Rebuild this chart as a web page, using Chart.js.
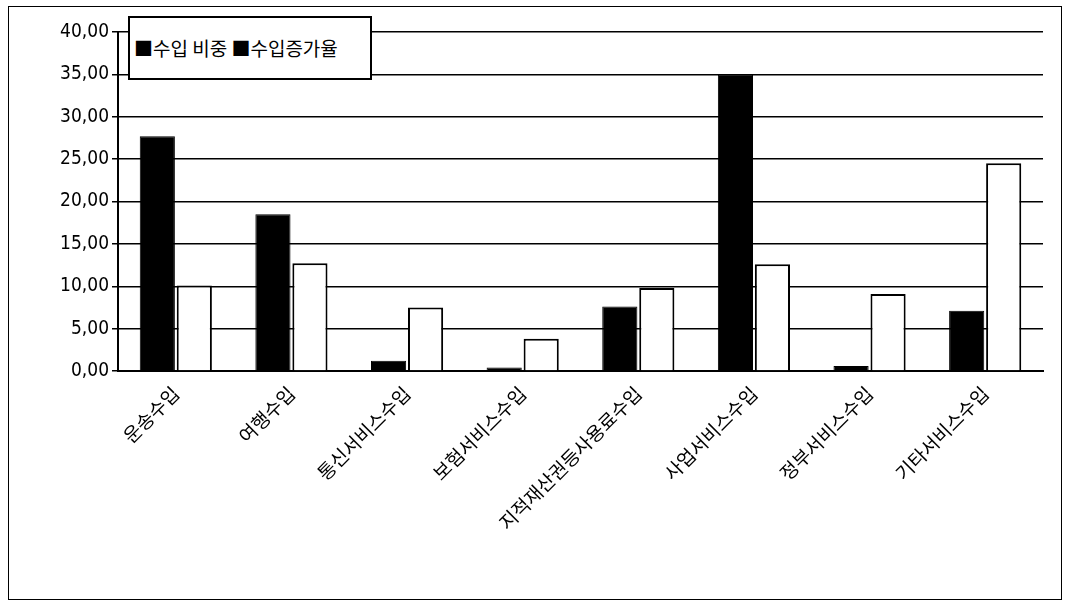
<!DOCTYPE html>
<html><head><meta charset="utf-8">
<script src="https://cdn.jsdelivr.net/npm/chart.js@4"></script>
<style>
body{margin:0;background:#fff}
#wrap{position:relative;width:1071px;height:610px}
#frame{position:absolute;left:8px;top:6px;width:1052px;height:592px;border:1px solid #000;pointer-events:none}
#legend{position:absolute;left:128px;top:16px;width:244px;height:64px;border:2px solid #000;background:#fff;
 font-family:"Noto Sans CJK KR";font-size:19px;line-height:60px;padding-left:4px;box-sizing:border-box;white-space:nowrap}
</style></head><body>
<div id="wrap"><canvas id="chart" width="1071" height="610"></canvas><div id="frame"></div>
<div id="legend">■수입 비중 ■수입증가율</div></div>
<script>
const categories = ['운송수입','여행수입','통신서비스수입','보험서비스수입','지적재산권등사용료수입','사업서비스수입','정부서비스수입','기타서비스수입'];
const share = [27.7, 18.5, 1.2, 0.4, 7.6, 35.0, 0.6, 7.1];
const growth = [10.1, 12.7, 7.5, 3.8, 9.8, 12.6, 9.1, 24.5];

new Chart(document.getElementById('chart').getContext('2d'), {
  type: 'bar',
  data: {
    labels: categories,
    datasets: [
      {label: '수입 비중', data: share, backgroundColor: '#000', borderColor: '#000', borderWidth: 1},
      {label: '수입증가율', data: growth, backgroundColor: '#fff', borderColor: '#000', borderWidth: 2}
    ]
  },
  options: {
    responsive: false, animation: false,
    layout: {padding: {left: 20, right: 28, top: 32, bottom: 10}},
    plugins: {legend: {display: false}, tooltip: {enabled: false}},
    datasets: {bar: {categoryPercentage: 0.64, barPercentage: 0.95}},
    scales: {
      x: {
        grid: {display: false},
        border: {color: '#000', width: 2},
        afterFit: s => { s.height = 229; },
        ticks: {color: '#000', maxRotation: 45, minRotation: 45, font: {family: 'Noto Sans CJK KR', size: 19}}
      },
      y: {
        min: 0, max: 40,
        grid: {color: '#000', lineWidth: 1.5, tickLength: 6},
        border: {color: '#000', width: 2},
        afterFit: s => { s.width = 98; },
        ticks: {stepSize: 5, color: '#000', font: {family: 'DejaVu Sans Condensed', size: 19},
          callback: v => v.toFixed(2).replace('.', ',')}
      }
    }
  }
});
</script></body></html>
